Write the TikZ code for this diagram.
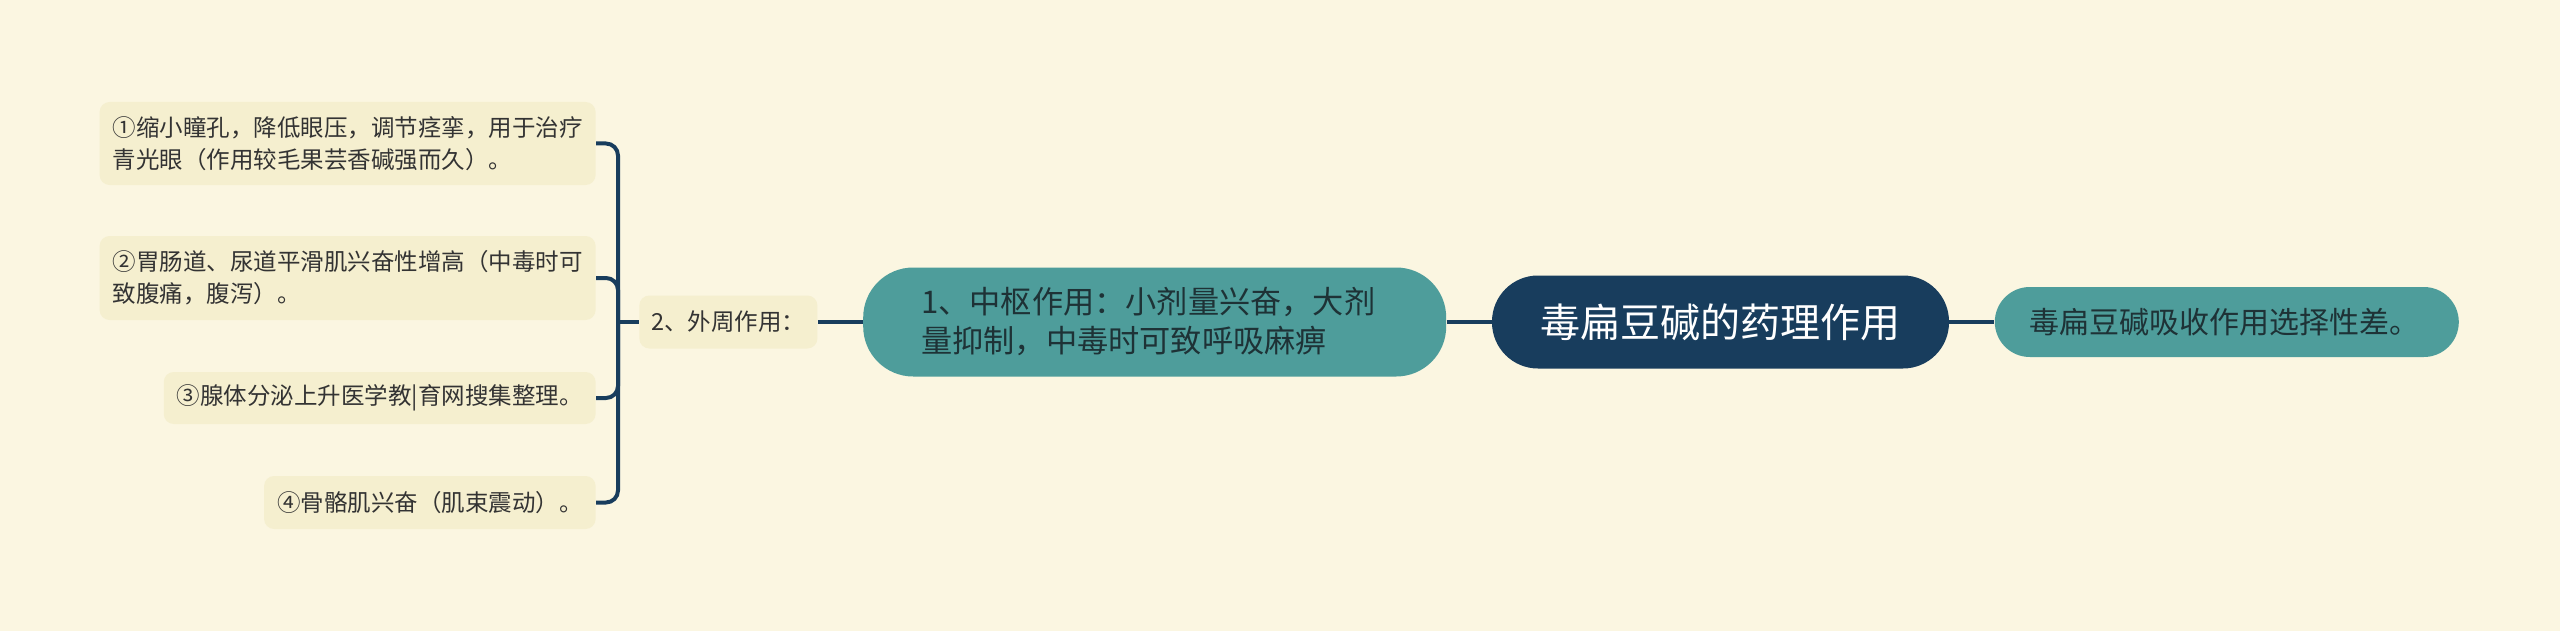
\documentclass[tikz,border=0pt]{standalone}
\usepackage{fontspec}
\setmainfont{Noto Sans CJK SC}
\usetikzlibrary{positioning}

\definecolor{bgcream}{HTML}{FBF6E1}
\definecolor{leafcream}{HTML}{F5EFCF}
\definecolor{tealfill}{HTML}{4E9D9B}
\definecolor{navyblue}{HTML}{183D5D}
\definecolor{leaftext}{HTML}{333333}
\definecolor{tealtext}{HTML}{1E3236}

\begin{document}
\begin{tikzpicture}[
    x=0.5pt, y=-0.5pt,
    node distance=22.5pt,
    leaf/.style={rectangle, rounded corners=5pt, fill=leafcream, text=leaftext, align=left, inner xsep=6.5pt, inner ysep=0pt, font=\fontsize{11.75}{16}\selectfont},
    branch/.style={rectangle, rounded corners=25pt, fill=tealfill, text=tealtext, align=left, inner xsep=29pt, inner ysep=0pt, font=\fontsize{15.6}{19.5}\selectfont},
    rootbox/.style={rectangle, rounded corners=23pt, fill=navyblue, text=white, minimum width=228.5pt, minimum height=46.5pt, font=\fontsize{20}{24}\selectfont},
    link/.style={draw=navyblue, line width=2pt}
]

% background
\fill[bgcream] (0,0) rectangle (2560,631);

\node[rootbox] (root) at (1720.5,322) {毒扁豆碱的药理作用};
\node[branch, left=of root, minimum height=54.5pt, text width=233.5pt] (central) {1、中枢作用：小剂量兴奋，大剂\\量抑制，中毒时可致呼吸麻痹};
\node[branch, right=of root, rounded corners=17.5pt, minimum height=35pt, inner xsep=17.5pt, text width=197pt, font=\fontsize{15}{18}\selectfont] (absorb) {毒扁豆碱吸收作用选择性差。};
\node[leaf, left=of central, minimum height=26.5pt, inner xsep=6pt] (periph) {2、外周作用：};

% leaves of 2
\node[leaf, anchor=east, minimum height=41.5pt] (eye) at (596,143.5) {①缩小瞳孔，降低眼压，调节痉挛，用于治疗\\青光眼（作用较毛果芸香碱强而久）。};
\node[leaf, anchor=east, minimum height=42pt] (gut) at (596,278) {②胃肠道、尿道平滑肌兴奋性增高（中毒时可\\致腹痛，腹泻）。};
\node[leaf, anchor=east, minimum height=26pt] (gland) at (596,398) {③腺体分泌上升医学教|育网搜集整理。};
\node[leaf, anchor=east, minimum height=26.5pt] (muscle) at (596,502.5) {④骨骼肌兴奋（肌束震动）。};

\draw[link] (central) -- (root);
\draw[link] (root) -- (absorb);
\draw[link] (periph) -- (central);

\coordinate (fork) at (618,322);
\draw[link] (periph) -- (fork);
\draw[link, rounded corners=6pt] (eye.east) -| (fork) |- (muscle.east);
\draw[link, rounded corners=6pt] (gut.east) -| (fork);
\draw[link, rounded corners=6pt] (gland.east) -| (fork);

\end{tikzpicture}
\end{document}
